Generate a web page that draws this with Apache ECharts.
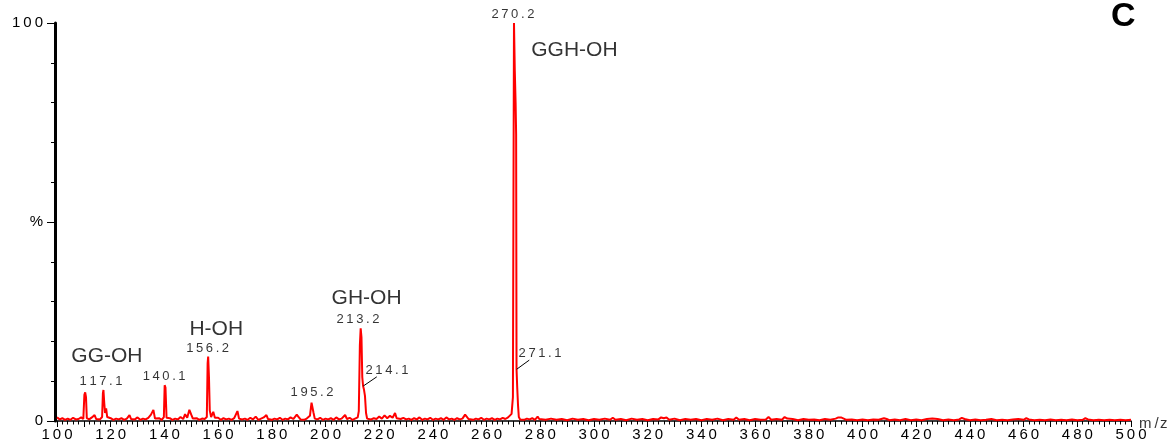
<!DOCTYPE html>
<html>
<head>
<meta charset="utf-8">
<script src="https://cdn.jsdelivr.net/npm/echarts@6/dist/echarts.min.js"></script>
<style>
html,body{margin:0;padding:0;background:#fff;}
#chart{width:1170px;height:446px;}
</style>
</head>
<body>
<div id="chart"></div>
<script>
// ---- DATA ----
const xTickLabels = [100,120,140,160,180,200,220,240,260,280,300,320,340,360,380,400,420,440,460,480,500];
const yTickLabels = {0:'0', 50:'%', 100:'100'};

// mass spectrum [m/z, relative intensity %]
const spectrum = [
[100,0.9],[101,0.4],[102,0.7],[103,0.3],[104,0.6],[105,0.3],[106,0.8],[107,0.4],[108,0.5],[109,0.9],
[109.8,0.5],[110.2,6.6],[110.5,7.2],[110.8,6.0],[111.1,0.7],[112,0.4],[113,0.9],[114,1.5],[114.6,0.5],[115,0.8],
[116,0.4],[116.8,1.0],[117.1,7.0],[117.3,7.8],[117.6,4.5],[117.9,2.0],[118.3,3.2],[118.7,1.0],[119,0.5],[120,0.7],
[121,0.3],[122,0.6],[123,0.4],[124,0.7],[125,0.3],[126,0.6],[127,1.5],[127.6,0.5],[128,0.8],[129,0.4],
[130,0.9],[131,0.3],[132,0.6],[133,0.4],[134,0.8],[135,1.6],[135.9,2.8],[136.5,0.6],[137,0.4],[138,0.7],
[139,0.3],[139.8,1.0],[140.1,9.0],[140.4,8.4],[140.8,0.8],[141,0.4],[142,0.7],[143,0.3],[144,0.6],[145,0.4],
[146,1.0],[147,0.5],[147.7,1.7],[148.5,0.8],[149.3,2.8],[150,1.6],[150.6,0.6],[151,0.4],[152,0.7],[153,0.3],
[154,0.6],[155,0.5],[155.8,1.0],[156.1,14.5],[156.3,16.2],[156.6,11],[156.9,2.6],[157.4,1.0],[158.2,2.3],[158.8,0.8],
[159,0.5],[160,0.8],[161,0.3],[162,0.7],[163,0.4],[164,0.6],[165,0.3],[166,0.7],[167.2,2.5],[167.8,0.6],
[168,0.9],[169,0.4],[170,0.6],[171,0.3],[172,0.8],[173,0.4],[174,1.1],[175,0.3],[176,0.6],[177,0.9],
[178,1.5],[178.6,0.5],[179,0.7],[180,0.3],[181,0.6],[182,0.4],[183,0.8],[184,0.3],[185,0.6],[186,0.4],
[187,0.9],[188,0.5],[189.3,1.6],[190,1.0],[190.7,0.4],[191,0.7],[192,0.3],[193,0.6],[194.2,1.3],[194.8,4.6],
[195.1,5.0],[195.5,2.2],[196,0.6],[197,0.4],[198,0.8],[199,0.3],[200,0.6],[201,0.4],[202,0.7],[203,0.3],
[204,0.9],[205,0.4],[206,0.6],[207.3,1.5],[208,0.5],[209,0.8],[210,0.3],[211,0.6],[212,0.9],[212.4,2.5],
[212.8,19],[213.1,23.3],[213.4,21],[213.7,11],[214.0,8.8],[214.3,8.0],[214.7,6.3],[215.1,2.0],[215.5,0.6],[216,0.9],
[217,0.4],[218,0.7],[219,0.5],[220,1.1],[221,0.6],[222,1.4],[222.6,1.5],[223,0.7],[224,1.3],[225,0.8],
[225.9,2.0],[226.5,0.7],[227,1.2],[228,0.5],[229,0.8],[230,0.4],[231,0.6],[232,0.3],[233,0.7],[234,0.4],
[235,0.9],[236,0.3],[237,0.6],[238,0.4],[239,0.8],[240,0.3],[241,0.6],[242,0.4],[243,0.7],[244,0.3],
[245,0.9],[246,0.4],[247,0.6],[248,0.3],[249,0.7],[250,0.4],[251,0.6],[252,1.6],[252.7,1.4],[253.3,0.5],
[254,0.7],[255,0.3],[256,0.6],[257,0.4],[258,0.8],[259,0.3],[260,0.6],[261,0.4],[262,0.7],[263,0.3],
[264,0.6],[265,0.4],[266,0.8],[267,0.5],[268,0.9],[268.7,1.0],[269.3,1.8],[269.8,6],[270.0,55],[270.2,100],
[270.5,88],[270.8,80],[271.0,72],[271.15,13],[271.4,8.5],[271.7,4],[272.0,1.0],[272.5,0.4],[273,0.7],[274,0.3],
[275,0.6],[276,0.4],[277,0.7],[278,0.3],[279,1.1],[279.6,0.5],[280,0.6],[282,0.3],[284,0.6],[286,0.3],
[288,0.5],[290,0.2],[292,0.6],[294,0.3],[296,0.5],[298,0.2],[300,0.5],[302,0.3],[304,0.6],[306,0.3],
[307,0.8],[308,0.3],[310,0.5],[312,0.2],[314,0.6],[316,0.3],[318,0.5],[320,0.2],[322,0.5],[324,0.4],
[325,0.9],[326,0.7],[327,0.9],[328,0.3],[330,0.6],[332,0.2],[334,0.5],[336,0.3],[338,0.5],[340,0.2],
[342,0.5],[344,0.3],[346,0.6],[348,0.2],[350,0.5],[352,0.3],[353,0.9],[354,0.3],[356,0.5],[358,0.2],
[360,0.5],[362,0.3],[364,0.4],[365,1.0],[366,0.3],[368,0.5],[370,0.3],[371,1.0],[372,0.6],[374,0.5],
[376,0.2],[378,0.5],[380,0.3],[382,0.4],[384,0.2],[386,0.5],[388,0.3],[390,0.6],[391,0.9],[392,0.9],
[393,0.6],[394,0.3],[396,0.4],[398,0.2],[400,0.4],[402,0.2],[404,0.4],[406,0.3],[408,0.7],[409,0.5],
[410,0.2],[412,0.4],[414,0.2],[416,0.5],[418,0.2],[420,0.4],[422,0.2],[424,0.5],[426,0.6],[428,0.5],
[430,0.2],[432,0.4],[434,0.2],[436,0.4],[437,0.8],[438,0.5],[440,0.2],[442,0.4],[444,0.2],[446,0.3],
[448,0.5],[450,0.2],[452,0.3],[454,0.2],[456,0.4],[458,0.5],[460,0.3],[461,0.7],[462,0.4],[464,0.2],
[466,0.3],[468,0.2],[470,0.4],[472,0.2],[474,0.3],[476,0.2],[478,0.4],[480,0.2],[482,0.3],[483,0.7],
[484,0.4],[486,0.2],[488,0.3],[490,0.2],[492,0.3],[494,0.2],[496,0.3],[498,0.2],[500,0.3]
];

// peak m/z labels: [anchor m/z, anchor %, text]
const peakLabels = [
[116.4,10.0,'117.1'],[139.9,11.2,'140.1'],[156.1,18.3,'156.2'],[195.0,7.2,'195.2'],
[212.1,25.4,'213.2'],[222.9,12.6,'214.1'],[269.8,102.1,'270.2'],[279.9,16.9,'271.1']
];
// compound labels: [anchor m/z, anchor %, text]
const compoundLabels = [
[118.6,16.2,'GG-OH'],[159.3,23.0,'H-OH'],[215.3,30.8,'GH-OH'],[292.7,93.1,'GGH-OH']
];
// x-axis unit label, anchored just past the axis end: [m/z, %, text]
const axisUnitLabel = [[503.0,-0.8,'m /z']];
// leader lines from peak to label
const leader214 = [[214.1,8.8],[219.1,11.1]];
const leader271 = [[271.2,13.0],[275.9,15.3]];

// ---- CHART ----
const FONT = 'Liberation Sans, Arial, sans-serif';
const spaced = s => String(s).split('').join('\u2009');

const chart = echarts.init(document.getElementById('chart'), null, {renderer:'canvas'});
chart.setOption({
  animation:false,
  backgroundColor:'#ffffff',
  title:{text:'C', left:1106, top:-5, textStyle:{fontFamily:FONT, fontSize:34, fontWeight:'bold', color:'#000'}},
  grid:{left:57, right:39, top:23, bottom:25, containLabel:false, outerBoundsMode:'none'},
  xAxis:{
    type:'value', min:100, max:500, interval:10,
    axisLine:{show:true, onZero:false, lineStyle:{color:'#000', width:1.5}},
    axisTick:{show:true, length:6, lineStyle:{color:'#000', width:1}},
    minorTick:{show:true, splitNumber:5, length:3.5, lineStyle:{color:'#000', width:1}},
    axisLabel:{fontFamily:FONT, fontSize:15, color:'#000', margin:6,
      formatter:v => xTickLabels.indexOf(v) >= 0 ? spaced(v) : ''},
    splitLine:{show:false}, minorSplitLine:{show:false}
  },
  yAxis:{
    type:'value', min:0, max:100, interval:50, offset:2,
    axisLine:{show:true, lineStyle:{color:'#000', width:3}},
    axisTick:{show:true, length:8, lineStyle:{color:'#000', width:1}},
    minorTick:{show:true, splitNumber:5, length:4, lineStyle:{color:'#000', width:1}},
    axisLabel:{fontFamily:FONT, fontSize:15, color:'#000', margin:12,
      formatter:v => spaced(yTickLabels[v] !== undefined ? yTickLabels[v] : '')},
    splitLine:{show:false}, minorSplitLine:{show:false}
  },
  series:[
    {type:'line', data:spectrum, showSymbol:false, symbol:'none', z:5,
     lineStyle:{color:'#ff0000', width:2}},
    {type:'line', data:leader214, showSymbol:false, symbol:'none', z:6,
     lineStyle:{color:'#000', width:1}},
    {type:'line', data:leader271, showSymbol:false, symbol:'none', z:6,
     lineStyle:{color:'#000', width:1}},
    {type:'scatter', data:peakLabels, symbolSize:0, clip:false, z:7, silent:true,
     label:{show:true, position:'inside', align:'center', verticalAlign:'middle',
       fontFamily:FONT, fontSize:13, color:'#000',
       formatter:p => spaced(p.data[2])}},
    {type:'scatter', data:compoundLabels, symbolSize:0, clip:false, z:7, silent:true,
     label:{show:true, position:'inside', align:'center', verticalAlign:'middle',
       fontFamily:FONT, fontSize:21, color:'#000',
       formatter:p => p.data[2]}},
    {type:'scatter', data:axisUnitLabel, symbolSize:0, clip:false, z:7, silent:true,
     label:{show:true, position:'inside', align:'left', verticalAlign:'middle',
       fontFamily:FONT, fontSize:15, color:'#000',
       formatter:p => 'm\u2009/\u200az'}}
  ]
});
</script>
</body>
</html>
